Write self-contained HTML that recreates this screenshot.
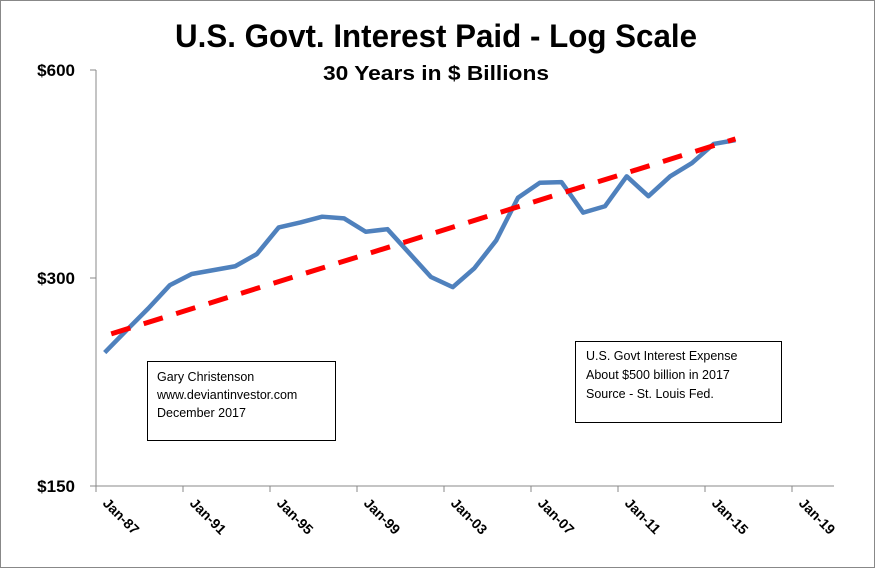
<!DOCTYPE html>
<html><head><meta charset="utf-8"><style>
html,body{margin:0;padding:0;background:#fff}
svg{display:block}
text{font-family:"Liberation Sans",sans-serif}
</style></head><body>
<svg id="chart" width="875" height="568" xmlns="http://www.w3.org/2000/svg">
<rect x="0.5" y="0.5" width="874" height="567" fill="#fff" stroke="#888"/>
<text x="436" y="47" text-anchor="middle" font-size="32" font-weight="bold" textLength="522" lengthAdjust="spacingAndGlyphs">U.S. Govt. Interest Paid - Log Scale</text>
<text x="436" y="80" text-anchor="middle" font-size="20" font-weight="bold" textLength="226" lengthAdjust="spacingAndGlyphs">30 Years in $ Billions</text>
<g id="axes"></g>
<g id="marks"></g>
<g>
<rect x="147.5" y="361.5" width="188" height="79" fill="#fff" stroke="#000"/>
<text x="157" y="381" font-size="12.5">Gary Christenson</text>
<text x="157" y="399" font-size="12.5">www.deviantinvestor.com</text>
<text x="157" y="417" font-size="12.5">December 2017</text>
</g>
<g>
<rect x="575.5" y="341.5" width="206" height="81" fill="#fff" stroke="#000"/>
<text x="586" y="360" font-size="12.5">U.S. Govt Interest Expense</text>
<text x="586" y="379" font-size="12.5">About $500 billion in 2017</text>
<text x="586" y="398" font-size="12.5">Source - St. Louis Fed.</text>
</g>
</svg>
<script>
const years=[1987,1988,1989,1990,1991,1992,1993,1994,1995,1996,1997,1998,1999,2000,2001,2002,2003,2004,2005,2006,2007,2008,2009,2010,2011,2012,2013,2014,2015,2016];
const interest=[234,252,271,293,304,308,312,325,355,361,368,366,350,353,326,301,291,310,340,392,412,413,373,381,421,394,421,440,469,475];
const trendYears=[1987.7,2016.4];
const trendValues=[249,477];
const yTicks=[150,300,600];
const yTickLabels=["$150","$300","$600"];
const xTicks=[1987,1991,1995,1999,2003,2007,2011,2015,2019];
const xTickLabels=["Jan-87","Jan-91","Jan-95","Jan-99","Jan-03","Jan-07","Jan-11","Jan-15","Jan-19"];
const NS="http://www.w3.org/2000/svg";
const x0=96,pxPerYear=21.75,yTop=70,yBot=486;
function xs(t){return x0+(t-1987)*pxPerYear;}
function ys(v){return yBot-(Math.log(v/150)/Math.log(4))*(yBot-yTop);}
function mk(tag,attrs,parent){const e=document.createElementNS(NS,tag);for(const k in attrs)e.setAttribute(k,attrs[k]);parent.appendChild(e);return e;}
const axes=document.getElementById('axes'),marks=document.getElementById('marks');
let a=mk('line',{x1:x0,y1:yTop,x2:x0,y2:yBot,stroke:'#888'},axes);


a=mk('line',{x1:x0,y1:yBot,x2:834,y2:yBot,stroke:'#888'},axes);


yTicks.forEach((v,i)=>{
 const y=ys(v);
 mk('line',{x1:x0-6,y1:y,x2:x0,y2:y,stroke:'#888'},axes);
 const t=mk('text',{x:75,y:y+6,'text-anchor':'end','font-size':17,'font-weight':'bold'},axes);
 t.textContent=yTickLabels[i];
 
 
});
xTicks.forEach((yr,i)=>{
 const x=xs(yr);
 mk('line',{x1:x,y1:yBot,x2:x,y2:yBot+6,stroke:'#888'},axes);
 const t=mk('text',{x:0,y:0,'font-size':14,'font-weight':'bold',transform:`translate(${x+6},${yBot+18}) rotate(45)`},axes);
 t.textContent=xTickLabels[i];
 
 
});
const pts=years.map((yr,i)=>xs(yr+0.4)+','+ys(interest[i])).join(' ');
const line=mk('polyline',{points:pts,fill:'none',stroke:'#4f81bd','stroke-width':4.5,'stroke-linejoin':'round'},marks);


const tr=mk('line',{x1:xs(trendYears[0]),y1:ys(trendValues[0]),x2:xs(trendYears[1]),y2:ys(trendValues[1]),stroke:'#ff0000','stroke-width':5,'stroke-dasharray':'20 14'},marks);


</script>
</body></html>
